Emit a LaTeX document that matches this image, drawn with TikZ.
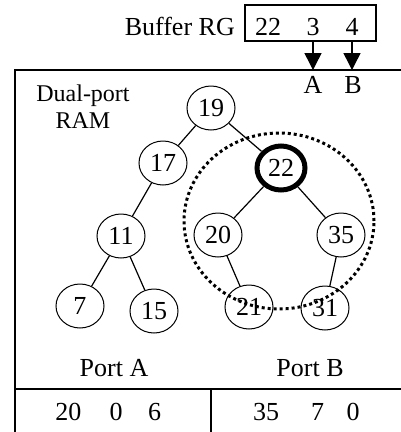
\documentclass[tikz,border=0pt]{standalone}
\usepackage{fontspec}
\setmainfont{Liberation Serif}
\usetikzlibrary{shapes.geometric,arrows.meta}
\begin{document}
\begin{tikzpicture}[x=1pt,y=-1pt,
  every node/.style={font=\fontsize{26}{29}\selectfont, inner sep=0pt},
  tnode/.style={draw, ellipse, line width=1pt, minimum width=48pt, minimum height=44pt},
  hot/.style={draw, ellipse, line width=5pt, minimum width=48pt, minimum height=44pt},
  edge/.style={line width=1.2pt},
  frame/.style={line width=1.5pt},
  arr/.style={line width=1.5pt, -{Triangle[length=17pt,width=17pt]}},
  dots/.style={line width=3pt, dash pattern=on 3pt off 3pt}]
\useasboundingbox (0,0) rectangle (400,432);
% buffer
\node[anchor=base east] (buflab) at (235,35) {Buffer RG};
\node[draw, frame, minimum width=131pt, minimum height=36pt, anchor=north west] (buf) at (244,4) {};
\node[anchor=base] (b22) at (268,35) {22};
\node[anchor=base] (b3) at (313,35) {3};
\node[anchor=base] (b4) at (352,35) {4};
\coordinate (a0) at (313,40);
\coordinate (a1) at (313,70);
\coordinate (c0) at (352,40);
\coordinate (c1) at (352,70);
\draw[arr] (a0) -- (a1);
\draw[arr] (c0) -- (c1);
% frame
\coordinate (tl) at (15,70);
\coordinate (tr) at (401,70);
\coordinate (bl) at (15,433);
\coordinate (ml) at (15,389);
\coordinate (mr) at (401,389);
\coordinate (dv0) at (211,389);
\coordinate (dv1) at (211,433);
\draw[frame] (tr) -- (tl) -- (bl);
\draw[frame] (ml) -- (mr);
\draw[frame] (dv0) -- (dv1);
\node[anchor=base] (la) at (313,93) {A};
\node[anchor=base] (lb) at (353,93) {B};
\node[align=center, font=\fontsize{24}{27}\selectfont] (ram) at (83,107) {Dual-port\\RAM};
% tree
\node[tnode] (n19) at (211,108) {19};
\node[tnode] (n17) at (163,163) {17};
\node[hot] (n22) at (281,168) {22};
\node[tnode] (n11) at (121,236) {11};
\node[tnode] (n20) at (218,235) {20};
\node[tnode] (n35) at (341,235) {35};
\node[tnode] (n7) at (80,306) {7};
\node[tnode] (n15) at (154,311) {15};
\node[tnode] (n21) at (249,307) {21};
\node[tnode] (n31) at (325,308) {31};
\draw[edge] (n19) -- (n17);
\draw[edge] (n19) -- (n22);
\draw[edge] (n17) -- (n11);
\draw[edge] (n11) -- (n7);
\draw[edge] (n11) -- (n15);
\draw[edge] (n22) -- (n20);
\draw[edge] (n22) -- (n35);
\draw[edge] (n20) -- (n21);
\draw[edge] (n35) -- (n31);
\node[draw, dots, ellipse, minimum width=190pt, minimum height=176pt] (sub) at (279,221) {};
% ports
\node[anchor=base] (pa) at (114,376) {Port A};
\node[anchor=base] (pb) at (310,376) {Port B};
\node[anchor=base] (va1) at (68.5,420) {20};
\node[anchor=base] (va2) at (116,420) {0};
\node[anchor=base] (va3) at (154.5,420) {6};
\node[anchor=base] (vb1) at (266,420) {35};
\node[anchor=base] (vb2) at (317.5,420) {7};
\node[anchor=base] (vb3) at (353,420) {0};
\end{tikzpicture}
\end{document}
